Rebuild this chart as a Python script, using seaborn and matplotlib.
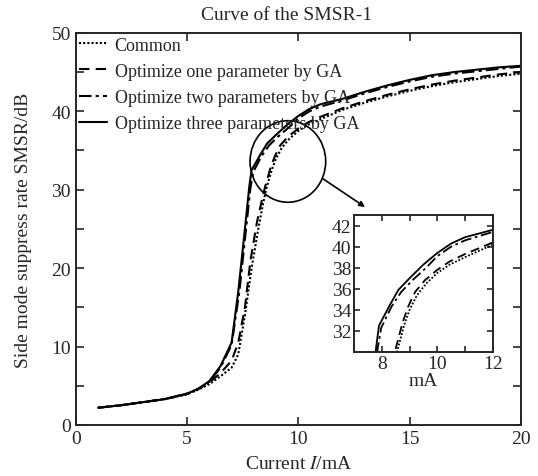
import numpy as np
import pandas as pd
import matplotlib
matplotlib.use("Agg")
import matplotlib.pyplot as plt
from matplotlib.patches import Ellipse
import seaborn as sns

# ===== data =====
SERIES = ["Common",
          "Optimize one parameter by GA",
          "Optimize two parameters by GA",
          "Optimize three parameters by GA"]

common_x = [1, 2, 3, 4, 5, 5.5, 6, 6.5, 7, 7.3, 7.6, 7.9, 8.2, 8.4, 8.55, 8.8, 9.0, 9.27,
            9.6, 10, 10.45, 11, 12, 13, 14, 15, 16, 17, 18, 19, 20]
common_y = [2.2, 2.5, 2.9, 3.3, 3.9, 4.5, 5.2, 6.2, 7.3, 9.0, 14, 20, 25, 28, 30, 32.5, 34, 35.4,
            36.5, 37.5, 38.3, 39.0, 40.2, 41.1, 41.9, 42.6, 43.2, 43.7, 44.1, 44.5, 44.8]

one_x = [1, 2, 3, 4, 5, 5.5, 6, 6.5, 7, 7.3, 7.6, 7.85, 8.15, 8.35, 8.5, 8.75, 8.95, 9.2,
         9.55, 10, 10.45, 11, 12, 13, 14, 15, 16, 17, 18, 19, 20]
one_y = [2.2, 2.5, 2.9, 3.3, 3.95, 4.6, 5.4, 6.6, 8.2, 10.5, 15, 21, 26, 28.5, 30.3, 32.8, 34.3, 35.7,
         36.8, 37.8, 38.6, 39.3, 40.4, 41.3, 42.1, 42.8, 43.4, 43.9, 44.3, 44.7, 45.0]

two_x = [1, 2, 3, 4, 5, 5.5, 6, 6.5, 7, 7.35, 7.65, 7.85, 7.98, 8.35, 8.7, 9.1, 9.6, 10,
         10.5, 11, 12, 13, 14, 15, 16, 17, 18, 19, 20]
two_y = [2.2, 2.5, 2.9, 3.3, 4.0, 4.6, 5.5, 7.3, 10.2, 17, 25, 30.3, 32.3, 34.3, 35.7, 36.8, 38.0, 39.1,
         40.0, 40.6, 41.4, 42.3, 43.1, 43.8, 44.4, 44.8, 45.1, 45.4, 45.7]

three_x = [1, 2, 3, 4, 5, 5.5, 6, 6.5, 7, 7.3, 7.6, 7.8, 7.9, 8.3, 8.6, 9.0, 9.5, 10,
           10.5, 11, 12, 13, 14, 15, 16, 17, 18, 19, 20]
three_y = [2.2, 2.5, 2.9, 3.3, 4.0, 4.6, 5.6, 7.5, 10.5, 17, 25, 30.5, 32.5, 34.5, 35.9, 37.0, 38.3, 39.4,
           40.3, 40.9, 41.6, 42.5, 43.3, 44.0, 44.6, 45.0, 45.3, 45.6, 45.8]

XS = [common_x, one_x, two_x, three_x]
YS = [common_y, one_y, two_y, three_y]
STYLES = [(0, (1, 1)), (0, (5, 3)), (0, (6, 2, 1.5, 2)), "-"]

df = pd.concat([pd.DataFrame({"x": x, "y": y, "s": s}) for x, y, s in zip(XS, YS, SERIES)],
               ignore_index=True)

# ===== style =====
sns.set_theme(style="ticks")
plt.rcParams["font.family"] = ["Liberation Serif", "DejaVu Serif"]
plt.rcParams["mathtext.fontset"] = "stix"
plt.rcParams["xtick.direction"] = "in"
plt.rcParams["ytick.direction"] = "in"

FS = 14


def draw_lines(ax, lw):
    for s, ls in zip(SERIES, STYLES):
        sns.lineplot(data=df[df.s == s], x="x", y="y", ax=ax, color="black",
                     linestyle=ls, linewidth=lw, label=s, estimator=None, sort=False)


fig = plt.figure(figsize=(5.38, 4.77), dpi=100)
ax = fig.add_axes([0.141, 0.107, 0.827, 0.822])
draw_lines(ax, 1.5)
ax.set_xlim(0, 20)
ax.set_ylim(0, 50)
ax.set_xticks([0, 5, 10, 15, 20])
ax.set_yticks([0, 10, 20, 30, 40, 50])
ax.set_yticks([5, 15, 25, 35, 45], minor=True)
ax.tick_params(which="both", top=True, right=True, labelsize=FS, width=1.2, length=6)
for sp in ax.spines.values():
    sp.set_linewidth(1.4)
ax.set_xlabel("Current $I$/mA", fontsize=FS, labelpad=6)
ax.set_ylabel("Side mode suppress rate SMSR/dB", fontsize=FS, labelpad=14)
ax.set_title("Curve of the SMSR-1", fontsize=FS, pad=10, x=0.473)
leg = ax.legend(loc="upper left", bbox_to_anchor=(0.008, 0.99), frameon=False, fontsize=13,
                handlelength=1.5, handletextpad=0.45, borderaxespad=0.0, borderpad=0.0,
                labelspacing=0.5)

# zoom circle + arrow
ax.add_patch(Ellipse((9.53, 33.6), 3.4, 10.4, fill=False, edgecolor="black", lw=1.2))
ax.annotate("", xy=(13.1, 27.6), xytext=(11.0, 31.6),
            arrowprops=dict(arrowstyle="-|>", color="black", lw=1.2, mutation_scale=8))

# inset
ins = fig.add_axes([0.658, 0.26, 0.258, 0.287])
draw_lines(ins, 1.3)
ins.get_legend().remove()
ins.set_xlim(7, 12)
ins.set_ylim(30, 43)
ins.set_xticks([8, 10, 12])
ins.set_xticks([9, 11], minor=True)
ins.set_yticks([32, 34, 36, 38, 40, 42])
ins.tick_params(which="both", top=True, right=True, labelsize=FS, length=4, width=1.2, pad=2)
for sp in ins.spines.values():
    sp.set_linewidth(1.4)
ins.set_xlabel("mA", fontsize=FS, labelpad=0)
ins.set_ylabel("")

fig.savefig("out.png", dpi=100)
